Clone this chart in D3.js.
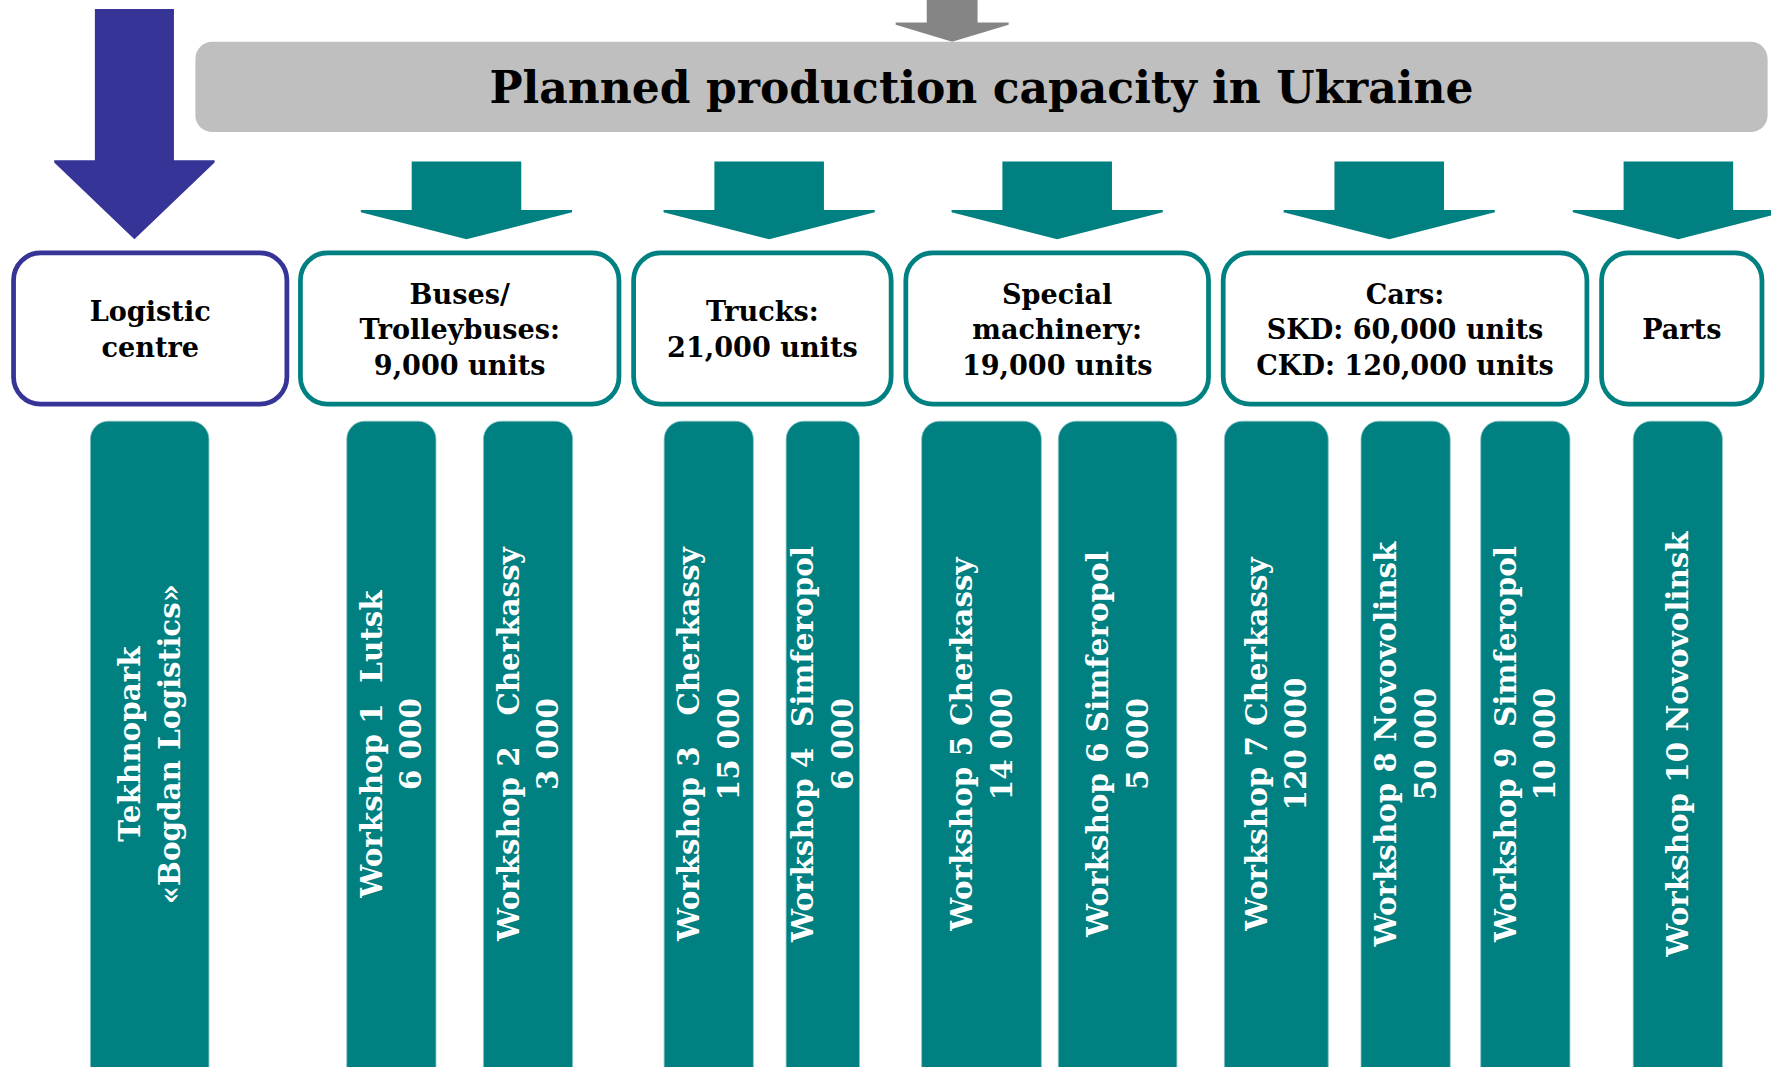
<!DOCTYPE html>
<html>
<head>
<meta charset="utf-8">
<script src="https://cdn.jsdelivr.net/npm/d3@7"></script>
<style>
  html, body { margin: 0; padding: 0; background: #ffffff; }
  svg { display: block; }
  text { font-family: "DejaVu Serif", "Liberation Serif", serif; font-weight: bold; white-space: pre; }
</style>
</head>
<body>
<div id="chart"></div>
<script>
// ---------------- DATA ----------------
const title = "Planned production capacity in Ukraine";
const categoryLines = [
  ["Logistic", "centre"],
  ["Buses/", "Trolleybuses:", "9,000 units"],
  ["Trucks:", "21,000 units"],
  ["Special", "machinery:", "19,000 units"],
  ["Cars:", "SKD: 60,000 units", "CKD: 120,000 units"],
  ["Parts"]
];
const workshopNames = [
  "Tekhnopark",
  "Workshop 1  Lutsk",
  "Workshop 2   Cherkassy",
  "Workshop 3   Cherkassy",
  "Workshop 4  Simferopol",
  "Workshop 5 Cherkassy",
  "Workshop 6 Simferopol",
  "Workshop 7 Cherkassy",
  "Workshop 8 Novovolinsk",
  "Workshop 9  Simferopol",
  "Workshop 10 Novovolinsk"
];
const workshopCapacity = ["«Bogdan Logistics»", "6 000", "3 000", "15 000", "6 000", "14 000", "5 000", "120 000", "50 000", "10 000", ""];
const workshopCategory = [0, 1, 1, 2, 2, 3, 3, 4, 4, 4, 5];

// ---------------- LAYOUT (design units, mapped through scales) ----------------
const W = 1771, H = 1067, U = 1568, V = 945;
const x = d3.scaleLinear().domain([0, U]).range([0, W]);
const y = d3.scaleLinear().domain([0, V]).range([0, H]);

const boxX = [[12, 254], [266, 548], [561, 789], [802, 1070], [1083, 1405], [1418, 1560]];
const boxY = [224, 358];
const barX = [[80, 185], [307, 386], [428, 507], [588, 667], [696, 761], [816, 922], [937, 1042], [1084, 1176], [1205, 1284], [1311, 1390], [1446, 1525]];
const barY = [373, 990];
const arrowCenters = [413, 681, 936, 1230, 1486];

const teal = "#008080", purple = "#363497", grey = "#bfbfbf", greyArrow = "#858585";

const svg = d3.select("#chart").append("svg").attr("width", W).attr("height", H);

function arrowPath(cx, shaftHalf, headHalf, top, headY, tipY) {
  const p = d3.path();
  p.moveTo(x(cx - shaftHalf), y(top));
  p.lineTo(x(cx + shaftHalf), y(top));
  p.lineTo(x(cx + shaftHalf), y(headY));
  p.lineTo(x(cx + headHalf), y(headY));
  p.lineTo(x(cx + headHalf), y(headY + 2));
  p.lineTo(x(cx), y(tipY));
  p.lineTo(x(cx - headHalf), y(headY + 2));
  p.lineTo(x(cx - headHalf), y(headY));
  p.lineTo(x(cx - shaftHalf), y(headY));
  p.closePath();
  return p.toString();
}

// grey top arrow
svg.append("path").attr("d", arrowPath(843, 22.5, 50, -10, 20, 37)).attr("fill", greyArrow);

// banner
svg.append("rect")
  .attr("x", x(173)).attr("y", y(37)).attr("width", x(1565) - x(173)).attr("height", y(117) - y(37))
  .attr("rx", x(15)).attr("fill", grey);
svg.append("text")
  .attr("x", x(869)).attr("y", y(78)).attr("dy", "0.35em")
  .attr("text-anchor", "middle").attr("font-size", x(39)).attr("fill", "#000")
  .text(title);

// purple arrow
svg.append("path").attr("d", arrowPath(119, 35, 71, 8, 142, 212)).attr("fill", purple);

// teal arrows
svg.selectAll("path.teal-arrow").data(arrowCenters).join("path")
  .attr("class", "teal-arrow")
  .attr("d", c => arrowPath(c, 48.5, 93.5, 143, 186, 212))
  .attr("fill", teal);

// category boxes
const boxes = svg.selectAll("g.box").data(categoryLines).join("g").attr("class", "box");
boxes.append("rect")
  .attr("x", (d, i) => x(boxX[i][0]))
  .attr("y", y(boxY[0]))
  .attr("width", (d, i) => x(boxX[i][1]) - x(boxX[i][0]))
  .attr("height", y(boxY[1]) - y(boxY[0]))
  .attr("rx", x(24))
  .attr("fill", "#fff")
  .attr("stroke", (d, i) => i === 0 ? purple : teal)
  .attr("stroke-width", x(4.2));
const lineH = 31.5;
boxes.each(function (lines, i) {
  const cx = (boxX[i][0] + boxX[i][1]) / 2;
  const cy = (boxY[0] + boxY[1]) / 2 + 1;
  d3.select(this).selectAll("text").data(lines).join("text")
    .attr("x", x(cx))
    .attr("y", (d, j) => y(cy + (j - (lines.length - 1) / 2) * lineH))
    .attr("dy", "0.35em")
    .attr("text-anchor", "middle")
    .attr("font-size", x(24))
    .attr("fill", "#000")
    .text(d => d);
});

// workshop bars
const bars = svg.selectAll("g.bar").data(workshopNames.map((n, i) => ({ name: n, cap: workshopCapacity[i], cat: workshopCategory[i], i })))
  .join("g").attr("class", "bar");
bars.append("rect")
  .attr("x", d => x(barX[d.i][0]))
  .attr("y", y(barY[0]))
  .attr("width", d => x(barX[d.i][1]) - x(barX[d.i][0]))
  .attr("height", y(barY[1]) - y(barY[0]))
  .attr("rx", x(16))
  .attr("fill", teal)
  .attr("stroke", "#8cc4c4").attr("stroke-width", 0.8);
const barLine = 35;
bars.each(function (d) {
  const cx = (barX[d.i][0] + barX[d.i][1]) / 2;
  const cy = (barY[0] + 945) / 2;
  const lines = d.cap ? [d.name, d.cap] : [d.name];
  const g = d3.select(this).append("g")
    .attr("transform", `translate(${x(cx)},${y(cy)}) rotate(-90)`);
  g.selectAll("text").data(lines).join("text")
    .attr("x", 0)
    .attr("y", (t, j) => x((j - (lines.length - 1) / 2) * barLine))
    .attr("dy", "0.35em")
    .attr("text-anchor", "middle")
    .attr("font-size", x(26))
    .attr("fill", "#fff")
    .text(t => t);
});
</script>
</body>
</html>
